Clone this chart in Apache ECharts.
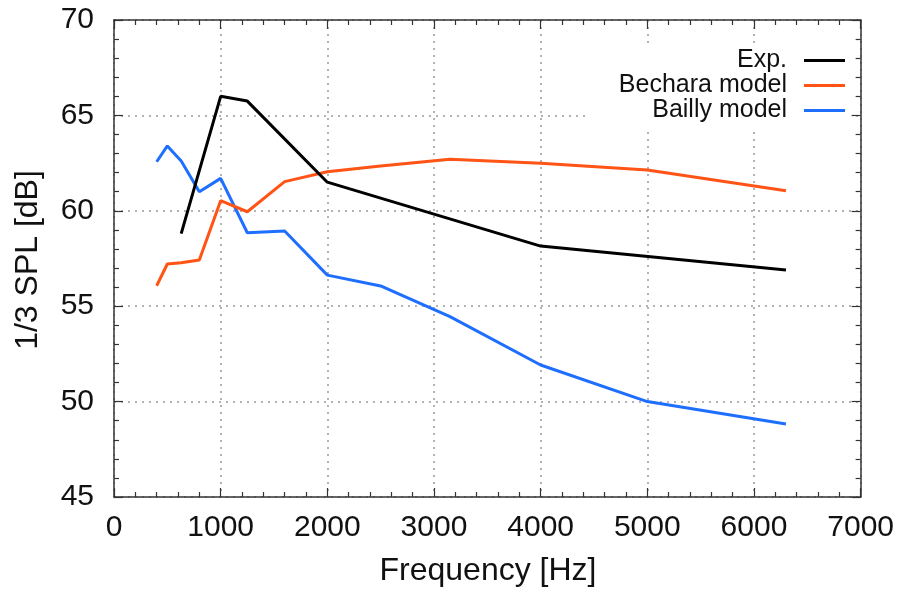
<!DOCTYPE html>
<html>
<head>
<meta charset="utf-8">
<script src="https://cdn.jsdelivr.net/npm/echarts@6/dist/echarts.min.js"></script>
<style>html,body{margin:0;padding:0;background:#fff}#c{width:897px;height:592px}</style>
</head>
<body>
<div id="c"></div>
<script>
// Data
var expFreq = [630, 1000, 1250, 2000, 4000, 6300];
var expSPL = [58.8, 66.0, 65.75, 61.5, 58.15, 56.9];

var modelFreq = [400, 500, 630, 800, 1000, 1250, 1600, 2000, 2500, 3150, 4000, 5000, 6300];
var becharaSPL = [56.07, 57.21, 57.28, 57.42, 60.53, 59.95, 61.53, 62.05, 62.35, 62.70, 62.49, 62.14, 61.05];
var baillySPL = [62.57, 63.40, 62.61, 61.0, 61.70, 58.85, 58.94, 56.63, 56.06, 54.45, 51.92, 50.0, 48.83];

var seriesNames = ['Exp.', 'Bechara model', 'Bailly model'];
var xTitle = 'Frequency [Hz]';
var yTitle = '1/3 SPL [dB]';

function pairs(xs, ys) { return xs.map(function (x, i) { return [x, ys[i]]; }); }

var FONT = '"Liberation Sans", Arial, sans-serif';
var axisCommon = {
  axisLine: { show: true, onZero: false, lineStyle: { color: '#333', width: 1.5 } },
  axisTick: { show: true, inside: true, length: 9, lineStyle: { color: '#333', width: 1.2 } },
  minorTick: { show: true, splitNumber: 5, length: 5, lineStyle: { color: '#333', width: 1.2 } }
};

var chart = echarts.init(document.getElementById('c'), null, { renderer: 'canvas' });
chart.setOption({
  animation: false,
  backgroundColor: '#fff',
  grid: { left: 114, right: 36, top: 20, bottom: 95, containLabel: false },
  xAxis: [
    Object.assign({}, axisCommon, {
      type: 'value', min: 0, max: 7000, interval: 1000, position: 'bottom',
      axisLabel: { fontFamily: FONT, fontSize: 30, color: '#111', margin: 16, formatter: function (v) { return String(v); } },
      splitLine: { show: true, lineStyle: { color: '#999', width: 1.5, type: [2, 5] } }
    }),
    Object.assign({}, axisCommon, {
      type: 'value', min: 0, max: 7000, interval: 1000, position: 'top',
      axisLabel: { show: false }, splitLine: { show: false }
    })
  ],
  yAxis: [
    Object.assign({}, axisCommon, {
      type: 'value', min: 45, max: 70, interval: 5, position: 'left',
      axisLabel: { fontFamily: FONT, fontSize: 30, color: '#111', margin: 20 },
      splitLine: { show: true, lineStyle: { color: '#999', width: 1.5, type: [2, 5] } }
    }),
    Object.assign({}, axisCommon, {
      type: 'value', min: 45, max: 70, interval: 5, position: 'right',
      axisLabel: { show: false }, splitLine: { show: false }
    })
  ],
  legend: {
    data: seriesNames,
    orient: 'vertical',
    right: 46,
    top: 46,
    align: 'right',
    itemGap: 0,
    itemWidth: 41,
    itemHeight: 14,
    padding: [2, 6, 6, 32],
    backgroundColor: '#fff',
    textStyle: { fontFamily: FONT, fontSize: 25, color: '#111', lineHeight: 25, padding: [0, 12, 0, 0] },
    icon: 'path://M0,5.5 L41,5.5 L41,8.5 L0,8.5 Z'
  },
  graphic: [
    {
      type: 'text', x: 28, y: 260, rotation: Math.PI / 2,
      style: { text: yTitle, fontFamily: FONT, fontSize: 32, fill: '#111', textAlign: 'center', textVerticalAlign: 'middle' }
    },
    {
      type: 'text', x: 488, y: 571,
      style: { text: xTitle, fontFamily: FONT, fontSize: 32, fill: '#111', textAlign: 'center', textVerticalAlign: 'middle' }
    }
  ],
  series: [
    { name: seriesNames[0], type: 'line', data: pairs(expFreq, expSPL), showSymbol: false, symbol: 'none',
      lineStyle: { color: '#000', width: 3 }, itemStyle: { color: '#000' }, z: 5 },
    { name: seriesNames[1], type: 'line', data: pairs(modelFreq, becharaSPL), showSymbol: false, symbol: 'none',
      lineStyle: { color: '#ff5416', width: 3 }, itemStyle: { color: '#ff5416' }, z: 4 },
    { name: seriesNames[2], type: 'line', data: pairs(modelFreq, baillySPL), showSymbol: false, symbol: 'none',
      lineStyle: { color: '#1e6eff', width: 3 }, itemStyle: { color: '#1e6eff' }, z: 3 }
  ]
});
</script>
</body>
</html>
